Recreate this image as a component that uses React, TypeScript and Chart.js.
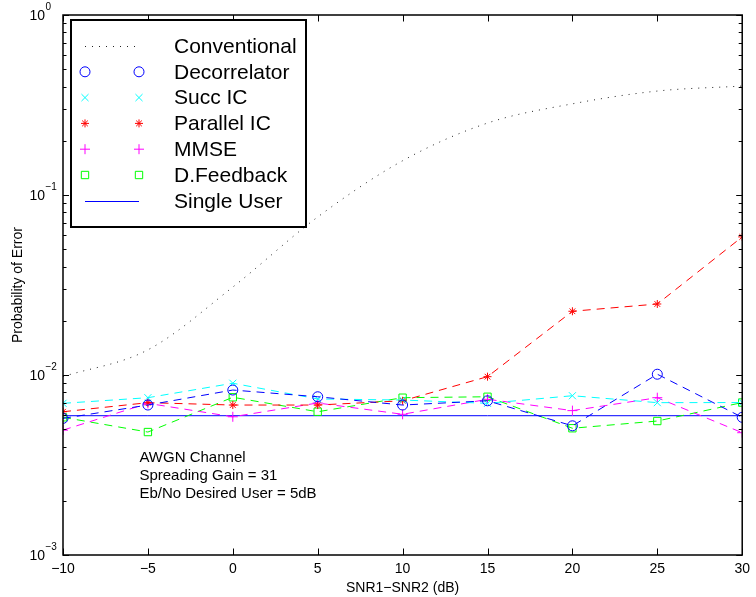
import { useEffect, useRef } from 'react';
import { Chart, registerables } from 'chart.js';
import { drawPoint } from 'chart.js/helpers';

Chart.register(...registerables);

// SNR difference between the two users (dB)
const snrDiff = [-10, -5, 0, 5, 10, 15, 20, 25, 30];

// Probability of error for the desired user, per detector
const conventional = [0.0098, 0.0138, 0.0308, 0.0755, 0.155, 0.251, 0.321, 0.378, 0.403];
const decorrelator = [0.00574, 0.00681, 0.00825, 0.00757, 0.00681, 0.00719, 0.00522, 0.0101, 0.00582];
const succIC = [0.00696, 0.00748, 0.0090, 0.00736, 0.00726, 0.00696, 0.00767, 0.00702, 0.00703];
const parallelIC = [0.00625, 0.00702, 0.00681, 0.00681, 0.00719, 0.00979, 0.0226, 0.0248, 0.0585];
const mmse = [0.00494, 0.00696, 0.00586, 0.00699, 0.00605, 0.00733, 0.00634, 0.00748, 0.00478];
const dFeedback = [0.00582, 0.00482, 0.00752, 0.00625, 0.00748, 0.00757, 0.00506, 0.00555, 0.00703];
const singleUser = [0.00594, 0.00594, 0.00594, 0.00594, 0.00594, 0.00594, 0.00594, 0.00594, 0.00594];

// Axis ticks
const xTicks = [-10, -5, 0, 5, 10, 15, 20, 25, 30];
const yDecades = [0.001, 0.01, 0.1, 1];
const yTickExponents = ['\u22123', '\u22122', '\u22121', '0'];
const yMinorFactors = [2, 3, 4, 5, 6, 7, 8, 9];

// Text block inside the plot
const noteLines = ['AWGN Channel', 'Spreading Gain = 31', 'Eb/No Desired User = 5dB'];
const noteAnchor = { x: -5.5, y: 0.00348 };

const FONT = '"Liberation Sans", Arial, Helvetica, sans-serif';

const BLUE = '#0000ff';
const CYAN = '#00ffff';
const RED = '#ff0000';
const MAGENTA = '#ff00ff';
const GREEN = '#00ff00';

const DASH = [8, 6];

const toPoints = (ys: number[]) => snrDiff.map((x, i) => ({ x, y: ys[i] }));

type LegendEntry = {
  label: string;
  color: string;
  dash?: number[];
  line: boolean;
  pointStyle?: string;
  radius?: number;
};

const markerSeries = (label: string, data: number[], color: string, pointStyle: string, radius: number) => ({
  label,
  data: toPoints(data),
  borderColor: color,
  borderWidth: 1,
  borderDash: DASH,
  pointStyle,
  pointRadius: radius,
  pointHoverRadius: radius,
  pointBorderColor: color,
  pointBackgroundColor: 'rgba(0,0,0,0)',
  pointBorderWidth: 1,
  fill: false,
  tension: 0,
});

const frameAndLabels = {
  id: 'frameAndLabels',
  afterDraw(chart: any) {
    const { ctx, chartArea } = chart;
    const { left, right, top, bottom } = chartArea;
    const xs = chart.scales.x;
    const ys = chart.scales.y;
    ctx.save();

    // axes box
    ctx.strokeStyle = '#000';
    ctx.lineWidth = 1.5;
    ctx.setLineDash([]);
    ctx.strokeRect(left, top, right - left, bottom - top);

    // inward ticks
    ctx.lineWidth = 1;
    ctx.beginPath();
    xTicks.forEach((v) => {
      const px = Math.round(xs.getPixelForValue(v)) + 0.5;
      ctx.moveTo(px, bottom);
      ctx.lineTo(px, bottom - 6.5);
      ctx.moveTo(px, top);
      ctx.lineTo(px, top + 6.5);
    });
    yDecades.forEach((d, i) => {
      const py = Math.round(ys.getPixelForValue(d)) + 0.5;
      ctx.moveTo(left, py);
      ctx.lineTo(left + 6, py);
      ctx.moveTo(right, py);
      ctx.lineTo(right - 6, py);
      if (i < yDecades.length - 1) {
        yMinorFactors.forEach((k) => {
          const my = Math.round(ys.getPixelForValue(d * k)) + 0.5;
          ctx.moveTo(left, my);
          ctx.lineTo(left + 3.5, my);
          ctx.moveTo(right, my);
          ctx.lineTo(right - 3.5, my);
        });
      }
    });
    ctx.stroke();

    // y tick labels: 10 with raised exponent
    ctx.fillStyle = '#000';
    yDecades.forEach((d, i) => {
      const py = ys.getPixelForValue(d);
      ctx.font = `14px ${FONT}`;
      ctx.textAlign = 'right';
      ctx.textBaseline = 'middle';
      ctx.fillText('10', left - 18, py + 1);
      ctx.font = `10px ${FONT}`;
      ctx.textAlign = 'left';
      ctx.fillText(yTickExponents[i], left - 17.5, py - 8);
    });

    // note text
    ctx.font = `15px ${FONT}`;
    ctx.textAlign = 'left';
    ctx.textBaseline = 'middle';
    const nx = xs.getPixelForValue(noteAnchor.x);
    const ny = ys.getPixelForValue(noteAnchor.y);
    noteLines.forEach((t, i) => ctx.fillText(t, nx, ny + i * 18));

    // legend
    const entries: LegendEntry[] = [
      { label: 'Conventional', color: '#222', dash: [1, 6], line: true },
      { label: 'Decorrelator', color: BLUE, line: false, pointStyle: 'circle', radius: 5 },
      { label: 'Succ IC', color: CYAN, line: false, pointStyle: 'crossRot', radius: 5 },
      { label: 'Parallel IC', color: RED, line: false, pointStyle: 'star', radius: 4 },
      { label: 'MMSE', color: MAGENTA, line: false, pointStyle: 'cross', radius: 5 },
      { label: 'D.Feedback', color: GREEN, line: false, pointStyle: 'rect', radius: 5.2 },
      { label: 'Single User', color: BLUE, line: true },
    ];
    const bx = left + 8;
    const by = top + 5;
    const bw = 235;
    const bh = 207;
    ctx.fillStyle = '#fff';
    ctx.fillRect(bx, by, bw, bh);
    ctx.strokeStyle = '#000';
    ctx.lineWidth = 2;
    ctx.setLineDash([]);
    ctx.strokeRect(bx, by, bw, bh);

    const x0 = bx + 14;
    const x1 = bx + 68;
    entries.forEach((e, i) => {
      const ry = by + 26 + i * 25.8;
      if (e.line) {
        ctx.beginPath();
        ctx.strokeStyle = e.color;
        ctx.lineWidth = 1;
        ctx.setLineDash(e.dash || []);
        ctx.moveTo(x0, Math.round(ry) + 0.5);
        ctx.lineTo(x1, Math.round(ry) + 0.5);
        ctx.stroke();
        ctx.setLineDash([]);
      }
      if (e.pointStyle) {
        ctx.strokeStyle = e.color;
        ctx.fillStyle = 'rgba(0,0,0,0)';
        ctx.lineWidth = 1;
        [x0, x1].forEach((px) =>
          drawPoint(ctx, { pointStyle: e.pointStyle, radius: e.radius, rotation: 0, borderWidth: 1 } as any, px, ry)
        );
      }
      ctx.fillStyle = '#000';
      ctx.font = `21px ${FONT}`;
      ctx.textAlign = 'left';
      ctx.textBaseline = 'middle';
      ctx.fillText(e.label, bx + 103, ry + 1);
    });

    ctx.restore();
  },
};

export default function App() {
  const canvasRef = useRef<HTMLCanvasElement | null>(null);

  useEffect(() => {
    if (!canvasRef.current) return;
    const chart = new Chart(canvasRef.current, {
      type: 'line',
      data: {
        datasets: [
          {
            label: 'Conventional',
            data: toPoints(conventional),
            borderColor: '#222',
            borderWidth: 1,
            borderDash: [1, 6],
            pointRadius: 0,
            pointHoverRadius: 0,
            cubicInterpolationMode: 'monotone',
            fill: false,
          },
          markerSeries('Decorrelator', decorrelator, BLUE, 'circle', 5),
          markerSeries('Succ IC', succIC, CYAN, 'crossRot', 5),
          markerSeries('Parallel IC', parallelIC, RED, 'star', 4),
          markerSeries('MMSE', mmse, MAGENTA, 'cross', 5),
          markerSeries('D.Feedback', dFeedback, GREEN, 'rect', 5.2),
          {
            label: 'Single User',
            data: toPoints(singleUser),
            borderColor: BLUE,
            borderWidth: 1,
            pointRadius: 0,
            pointHoverRadius: 0,
            fill: false,
          },
        ] as any,
      },
      options: {
        animation: false,
        responsive: true,
        maintainAspectRatio: false,
        events: [],
        layout: { padding: { left: 0, top: 15, right: 8, bottom: 0 } },
        plugins: {
          legend: { display: false },
          tooltip: { enabled: false },
        },
        scales: {
          x: {
            type: 'linear',
            min: -10,
            max: 30,
            grid: { display: false, drawTicks: false },
            border: { display: false },
            afterBuildTicks: (scale: any) => {
              scale.ticks = xTicks.map((value) => ({ value }));
            },
            afterFit: (scale: any) => {
              scale.height = 42;
            },
            ticks: {
              color: '#000',
              padding: 6,
              maxRotation: 0,
              autoSkip: false,
              font: { family: FONT, size: 14 },
              callback: (v: any) => (Number(v) < 0 ? '\u2212' + Math.abs(Number(v)) : String(v)),
            },
            title: {
              display: true,
              text: 'SNR1\u2212SNR2 (dB)',
              color: '#000',
              font: { family: FONT, size: 14 },
              padding: { top: 0, bottom: 0 },
            },
          },
          y: {
            type: 'logarithmic',
            min: 0.001,
            max: 1,
            grid: { display: false, drawTicks: false },
            border: { display: false },
            ticks: { display: false },
            afterFit: (scale: any) => {
              scale.width = 63;
            },
            title: {
              display: true,
              text: 'Probability of Error',
              color: '#000',
              font: { family: FONT, size: 14 },
              padding: { top: 10, bottom: 0 },
            },
          },
        },
      } as any,
      plugins: [frameAndLabels],
    });
    return () => chart.destroy();
  }, []);

  return (
    <div style={{ position: 'fixed', left: 0, top: 0, width: 756, height: 597, background: '#fff' }}>
      <canvas ref={canvasRef} />
    </div>
  );
}
